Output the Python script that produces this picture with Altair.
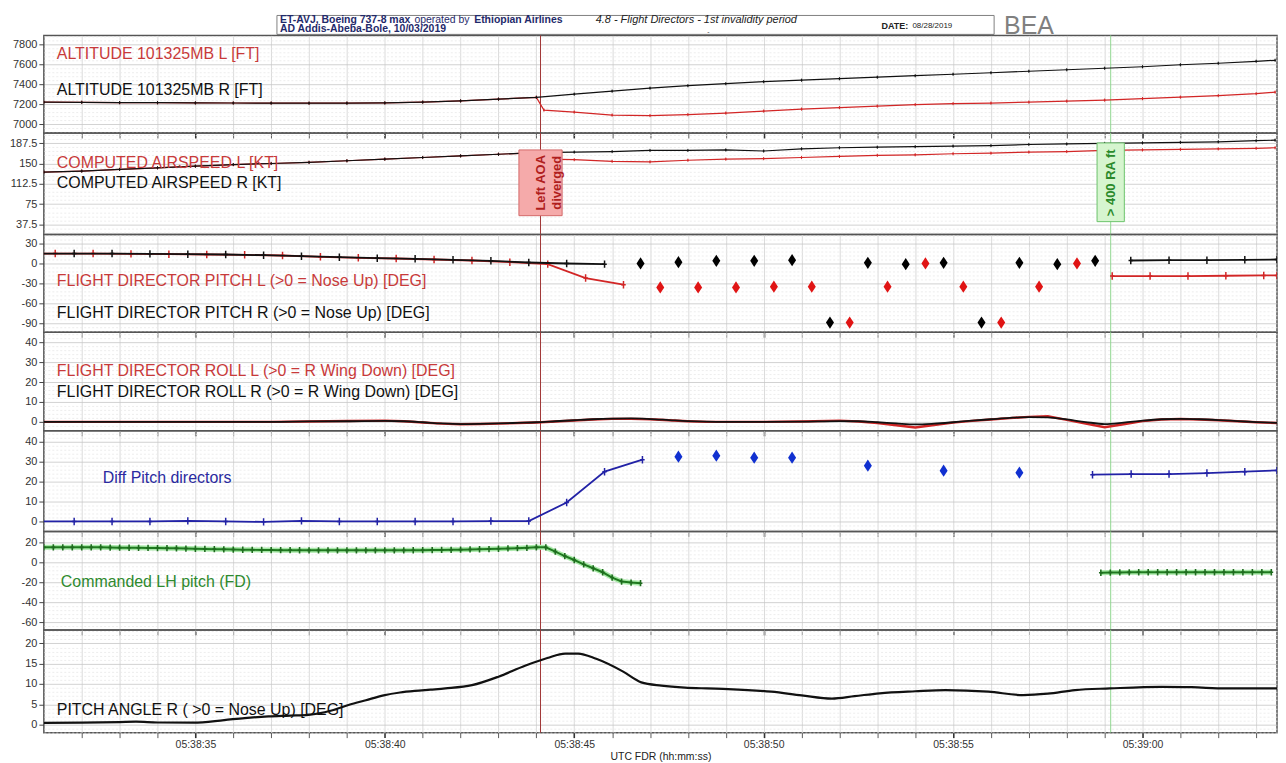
import altair as alt
import numpy as np
import pandas as pd

FONT = "Liberation Sans"
W = 1238
XDOM = [31.0, 63.55]

# ---------------- data ----------------
event_t = [44.11, 59.16]
event_color = ["#a03434", "#8fd68f"]

# Altitude [ft]
alt_R_t = [31, 32, 33, 34, 35, 36, 37, 38, 39, 40, 41, 42, 43, 44, 45, 46, 47, 48, 49, 50,
           51, 52, 53, 54, 55, 56, 57, 58, 59, 60, 61, 62, 63, 63.5]
alt_R = [7220, 7218, 7215, 7214, 7212, 7211, 7210, 7209, 7210, 7212, 7220, 7232, 7250, 7268,
         7300, 7330, 7360, 7385, 7405, 7425, 7440, 7455, 7470, 7485, 7500, 7515, 7530, 7545,
         7560, 7575, 7595, 7610, 7630, 7640]
alt_L_t = [31, 32, 33, 34, 35, 36, 37, 38, 39, 40, 41, 42, 43, 44, 44.2, 45, 46, 47, 48, 49,
           50, 51, 52, 53, 54, 55, 56, 57, 58, 59, 60, 61, 62, 63, 63.5]
alt_L = [7220, 7218, 7215, 7214, 7212, 7211, 7210, 7209, 7210, 7212, 7220, 7232, 7250, 7268,
         7140, 7120, 7090, 7085, 7095, 7110, 7130, 7150, 7165, 7180, 7195, 7205, 7210, 7220,
         7230, 7240, 7255, 7270, 7285, 7305, 7320]

# Computed airspeed [kt]
ias_R_t = alt_R_t
ias_R = [134, 136, 139, 142, 145, 148, 150, 152, 155, 158, 161, 164, 167, 170, 171, 172, 174,
         174, 175, 173, 177, 179, 180, 181, 182, 183, 185, 186, 187, 188, 189, 190, 192, 193]
ias_L_t = alt_L_t
ias_L = [134, 136, 139, 142, 145, 148, 150, 152, 155, 158, 161, 164, 167, 170, 158, 157, 154,
         153, 156, 158, 159, 161, 163, 165, 166, 168, 169, 171, 172, 174, 175, 176, 177, 178, 179]

# Flight director pitch [deg]
fdp_R_t = [30.8, 31.8, 32.8, 33.8, 34.8, 35.8, 36.8, 37.8, 38.8, 39.8, 40.8, 41.8, 42.8, 43.8,
           44.8, 45.8, 59.69, 60.7, 61.7, 62.7, 63.55]
fdp_R = [15, 15, 15, 14.5, 14, 13.5, 12.5, 11, 9.5, 8, 7, 5.5, 4, 1.5, 0, -1, 4.5, 5, 5, 5.5, 6]
fdp_R_seg = ["a"] * 16 + ["b"] * 5
fdp_L_t = [30.3, 31.3, 32.3, 33.3, 34.3, 35.3, 36.3, 37.3, 38.3, 39.3, 40.3, 41.3, 42.3, 43.3,
           44.3, 45.3, 46.3, 59.2, 60.2, 61.2, 62.2, 63.2, 63.55]
fdp_L = [15, 15, 15, 14.5, 14, 13.5, 13, 12, 10, 8.5, 7.5, 6, 4.5, 2, -1, -22, -32,
         -19, -19, -19, -18.5, -18, -18]
fdp_L_seg = ["a"] * 17 + ["b"] * 6
dia_R_t = [46.75, 47.75, 48.75, 49.75, 50.75, 51.75, 52.75, 53.75, 54.75, 55.75, 56.75, 57.75, 58.75]
dia_R = [0, 2, 4, 4, 5, -89, 1, -1, 1, -89, 1, -1, 4]
dia_L_t = [47.27, 48.27, 49.27, 50.27, 51.27, 52.27, 53.27, 54.27, 55.27, 56.27, 57.27, 58.27]
dia_L = [-36, -36, -36, -35, -35, -89, -35, 0, -35, -89, -35, 0]

# Flight director roll [deg]
roll_t = [31, 32, 33, 34, 35, 36, 37, 38, 39, 40, 40.5, 41, 41.5, 42, 42.5, 43, 43.5, 44, 44.5,
          45, 45.5, 46, 46.5, 47, 47.5, 48, 48.5, 49, 50, 51, 52, 52.5, 53, 53.5, 54, 54.5, 55,
          55.5, 56, 56.5, 57, 57.5, 58, 58.5, 59, 59.5, 60, 60.5, 61, 61.5, 62, 62.5, 63, 63.55]
roll_R = [0, 0, 0, 0, 0, 0, 0, 0.2, 0.3, 0.5, 0.3, -0.2, -0.8, -1.1, -1, -0.8, -0.5, -0.2, 0.3,
          0.8, 1.3, 1.6, 1.7, 1.4, 0.9, 0.4, 0.1, 0, 0, 0.1, 0.4, 0.3, -0.2, -0.8, -1.3, -0.9,
          -0.2, 0.6, 1.3, 2, 2.4, 2.2, 1.2, -0.1, -1.1, -0.4, 0.6, 1.3, 1.5, 1.3, 0.9, 0.4, -0.1, -0.5]
roll_L = [0, 0, 0, 0, 0, 0, 0, 0.2, 0.4, 0.6, 0.3, -0.3, -0.9, -1.2, -1.1, -0.9, -0.6, -0.3, 0.2,
          0.7, 1.2, 1.5, 1.5, 1.3, 0.8, 0.3, 0, 0, 0, 0.2, 0.6, 0.2, -0.6, -1.7, -2.8, -1.6,
          -0.4, 0.5, 1.2, 1.9, 2.5, 2.8, 1.0, -0.9, -2.7, -1.2, 0.4, 1.2, 1.4, 1.2, 0.8, 0.3, -0.2, -0.6]

# Diff pitch directors [deg]
dp_t = [30.8, 31.8, 32.8, 33.8, 34.8, 35.8, 36.8, 37.8, 38.8, 39.8, 40.8, 41.8, 42.8, 43.8,
        44.8, 45.8, 46.8, 58.68, 59.7, 60.7, 61.7, 62.7, 63.55]
dp_v = [0, 0, 0, 0, 0.3, 0, -0.2, 0.3, 0, 0, 0, 0, 0.2, 0.2, 9.5, 25, 31,
        23.5, 23.8, 23.8, 24.3, 25, 25.6]
dp_seg = ["a"] * 17 + ["b"] * 6
dpd_t = [47.75, 48.75, 49.75, 50.75, 52.75, 54.75, 56.75]
dpd_v = [32.5, 33, 32, 32, 28, 25.5, 24.5]

# Commanded LH pitch (FD) [deg]
cmd_t = [31.0, 31.25, 31.5, 31.75, 32.0, 32.25, 32.5, 32.75, 33.0, 33.25, 33.5, 33.75,
         34.0, 34.25, 34.5, 34.75, 35.0, 35.25, 35.5, 35.75, 36.0, 36.25, 36.5, 36.75,
         37.0, 37.25, 37.5, 37.75, 38.0, 38.25, 38.5, 38.75, 39.0, 39.25, 39.5, 39.75,
         40.0, 40.25, 40.5, 40.75, 41.0, 41.25, 41.5, 41.75, 42.0, 42.25, 42.5, 42.75,
         43.0, 43.25, 43.5, 43.75, 44.0, 44.25, 44.5, 44.75, 45.0, 45.25, 45.5, 45.75,
         46.0, 46.25, 46.5, 46.75,
         58.9, 59.15, 59.4, 59.65, 59.9, 60.15, 60.4, 60.65, 60.9, 61.15, 61.4, 61.65,
         61.9, 62.15, 62.4, 62.65, 62.9, 63.15, 63.4]
cmd_v = [15, 15, 15, 15, 15, 15, 15, 14.8, 14.7, 14.6, 14.5, 14.4, 14.3, 14.2, 14, 13.8,
         13.6, 13.4, 13.2, 13, 12.8, 12.6, 12.5, 12.4, 12.3, 12.2, 12.2, 12.1, 12, 12, 12, 12,
         12, 12, 12, 12, 12, 12, 12, 12.1, 12.2, 12.3, 12.4, 12.5, 12.7, 12.9, 13.1, 13.3,
         13.6, 13.9, 14.2, 14.5, 15, 15, 10.7, 6.3, 2.3, -2, -6, -10, -15.3, -19.3, -20.3, -21,
         -10.5, -10.3, -10.2, -10.1, -10, -10, -10, -10, -10, -10, -10, -10,
         -10, -10, -10, -10, -10, -10, -10]
cmd_seg = ["a"] * 64 + ["b"] * 19

# Pitch angle R [deg]
pit_t = [31.0, 32.0, 33.0, 33.43, 34.0, 34.95, 35.76, 36.3, 36.93, 37.5, 37.99, 38.57, 39.04,
         39.5, 39.97, 40.4, 40.79, 41.2, 41.6, 42.3, 43.0, 43.7, 44.29, 44.76, 45.1, 45.58,
         46.28, 46.77, 47.3, 47.92, 48.5, 49.06, 50.2, 51.0, 51.8, 52.4, 53.06, 54.0, 54.8,
         55.93, 56.85, 57.5, 58.22, 59.14, 60.5, 61.3, 62.2, 63.55]
pit_v = [0.4, 0.45, 0.6, 0.7, 0.5, 0.45, 1.1, 1.6, 2.0, 2.2, 2.4, 3.4, 4.8, 6.0, 7.2, 7.9,
         8.3, 8.6, 8.9, 9.7, 11.8, 14.5, 16.4, 17.5, 17.5, 16.2, 13.1, 10.4, 9.6, 9.1, 8.9,
         8.75, 8.1, 7.2, 6.4, 7.0, 7.7, 8.2, 8.5, 8.1, 7.25, 7.6, 8.5, 8.9, 9.3, 9.2, 8.9, 8.9]

# ---------------- helpers ----------------
XVALS = list(range(32, 64))
PLUS = "M-0.6,0L0.6,0M0,-1L0,1"
DIAM = "M0,-1.3L0.85,0L0,1.3L-0.85,0Z"
one = pd.DataFrame({"k": [0]})
ev_df = pd.DataFrame({"t": event_t, "c": event_color})


def df_of(t, v, seg=None):
    d = pd.DataFrame({"t": t, "v": v})
    d["seg"] = seg if seg is not None else ["a"] * len(t)
    return d


def X(last=False):
    common = dict(values=XVALS, grid=True, gridColor="#d2d2d2", gridWidth=0.8, domain=False,
                  tickColor="#333", tickSize=5,
                  tickWidth={"condition": {"test": "datum.value % 5 == 0", "value": 1.6}, "value": 0.8},
                  labelOverlap=False)
    if last:
        ax = alt.Axis(**common,
                      labelExpr="datum.value % 5 == 0 ? (datum.value < 60 ? '05:38:' + datum.value : '05:39:0' + (datum.value - 60)) : ''",
                      labelFont=FONT, labelFontSize=10.5, labelColor="#333", labelPadding=2,
                      title="UTC FDR (hh:mm:ss)", titleFont=FONT, titleFontSize=10.5,
                      titleFontWeight="normal", titleColor="#222", titlePadding=1)
    else:
        ax = alt.Axis(**common, labels=False, title=None)
    return alt.X("t:Q", scale=alt.Scale(domain=XDOM, nice=False, zero=False), axis=ax)


def Y(dom, major, step, lo, hi):
    vals = [round(float(v), 4) for v in np.arange(lo, hi + 1e-9, step)]
    test = f"abs(datum.value % {major}) < 1e-6"
    ax = alt.Axis(values=vals, title=None, domain=False, grid=True,
                  gridColor={"condition": {"test": test, "value": "#c6c6c6"}, "value": "#e8e8e8"},
                  gridDash={"condition": {"test": test, "value": []}, "value": [2, 2]},
                  gridWidth=0.8, tickSize=5, tickColor="#444",
                  tickOpacity={"condition": {"test": test, "value": 1}, "value": 0},
                  labelExpr=f"{test} ? '' + datum.value : ''",
                  labelFont=FONT, labelFontSize=11, labelColor="#333", labelPadding=2,
                  labelOverlap=False, labelBound=False)
    return alt.Y("v:Q", scale=alt.Scale(domain=dom, nice=False, zero=False), axis=ax)


def line(df, y, color, width=1.5, interp="linear", last=False):
    return alt.Chart(df).mark_line(color=color, strokeWidth=width, interpolate=interp, clip=True).encode(
        x=X(last), y=y, detail="seg:N")


def pts(df, y, color, shape=PLUS, size=30, sw=1.2, filled=False, last=False):
    return alt.Chart(df).mark_point(shape=shape, size=size, color=color, strokeWidth=sw,
                                    filled=filled, opacity=1, clip=True).encode(x=X(last), y=y)


def rules(last=False):
    return alt.Chart(ev_df).mark_rule(strokeWidth=1).encode(
        x=X(last), color=alt.Color("c:N", scale=None))


def label(text, x, y, color, size=16):
    return alt.Chart(one).mark_text(text=text, align="left", baseline="middle", font=FONT,
                                    fontSize=size, color=color).encode(x=alt.value(x), y=alt.value(y))


def htext(text, x, y, size, color, weight="normal", style="normal"):
    return alt.Chart(one).mark_text(text=text, align="left", baseline="middle", font=FONT, fontSize=size,
                                    fontWeight=weight, fontStyle=style, color=color).encode(
        x=alt.value(x), y=alt.value(y))


RED = "#d22626"
LRED = "#c83a3a"
BLK = "#111111"

# ---------------- header ----------------
NAVY = "#1f2a6b"
header = alt.layer(
    alt.Chart(one).mark_rect(fill="white", stroke="#808080", strokeWidth=1).encode(
        x=alt.value(234), x2=alt.value(954), y=alt.value(0), y2=alt.value(19)),
    htext("ET-AVJ, Boeing 737-8 max", 237, 4.5, 10.5, NAVY, "bold"),
    htext("operated by", 372, 4.5, 10.5, NAVY),
    htext("Ethiopian Airlines", 432, 4.5, 10.5, NAVY, "bold"),
    htext("AD Addis-Abeba-Bole, 10/03/2019", 237, 14, 10.5, NAVY, "bold"),
    htext("4.8 - Flight Directors - 1st invalidity period", 554, 4.5, 11, "#222", style="italic"),
    htext("-", 666, 17, 7, "#444"),
    htext("DATE:", 841, 10.5, 9, "#222", "bold"),
    htext("08/28/2019", 872, 10.5, 8, "#222"),
    htext("BEA", 964, 11, 25, "#808080"),
).properties(width=W, height=20, view=alt.ViewBackground(stroke=None))

# ---------------- panels ----------------
y1 = Y([6910, 7890], 200, 40, 6920, 7880)
p1 = alt.layer(
    rules(),
    line(df_of(alt_L_t, alt_L), y1, RED, 1.2),
    pts(df_of(alt_L_t, alt_L), y1, RED, size=10, sw=1),
    line(df_of(alt_R_t, alt_R), y1, BLK, 1.2),
    pts(df_of(alt_R_t, alt_R), y1, BLK, size=10, sw=1),
    label("ALTITUDE 101325MB L [FT]", 13, 19, LRED),
    label("ALTITUDE 101325MB R [FT]", 13, 55, BLK),
).properties(width=W, height=98)

y2 = Y([18.75, 206.25], 37.5, 7.5, 22.5, 202.5)
box_df = pd.DataFrame({"t": event_t, "text": ["Left AOA\ndiverged", "> 400 RA ft"]})
XS = alt.Scale(domain=XDOM, nice=False, zero=False)
red_box = alt.Chart(box_df.iloc[[0]]).transform_calculate(a="datum.t - 0.57", b="datum.t + 0.57").mark_rect(
    fill="#f5aaaa", stroke="#d46a6a", strokeWidth=1).encode(
    x=alt.X("a:Q", scale=XS, axis=None), x2="b:Q", y=alt.value(17), y2=alt.value(83))
red_txt = alt.Chart(box_df.iloc[[0]]).mark_text(angle=270, align="center", baseline="middle", font=FONT,
                                                fontSize=13, fontWeight="bold", color="#b01e1e",
                                                lineBreak="\n", lineHeight=17).encode(
    x=alt.X("t:Q", scale=XS, axis=None), y=alt.value(50), text="text:N")
grn_box = alt.Chart(box_df.iloc[[1]]).transform_calculate(a="datum.t - 0.36", b="datum.t + 0.36").mark_rect(
    fill="#d6f5cf", stroke="#6cc46c", strokeWidth=1).encode(
    x=alt.X("a:Q", scale=XS, axis=None), x2="b:Q", y=alt.value(10), y2=alt.value(89))
grn_txt = alt.Chart(box_df.iloc[[1]]).mark_text(angle=270, align="center", baseline="middle", font=FONT,
                                                fontSize=13, fontWeight="bold", color="#2b8a2b").encode(
    x=alt.X("t:Q", scale=XS, axis=None), y=alt.value(50), text="text:N")
p2 = alt.layer(
    rules(),
    line(df_of(ias_L_t, ias_L), y2, RED, 1.2),
    pts(df_of(ias_L_t, ias_L), y2, RED, size=10, sw=1),
    line(df_of(ias_R_t, ias_R), y2, BLK, 1.2),
    pts(df_of(ias_R_t, ias_R), y2, BLK, size=10, sw=1),
    label("COMPUTED AIRSPEED L [KT]", 13, 30, LRED),
    label("COMPUTED AIRSPEED R [KT]", 13, 50, BLK),
    red_box, red_txt, grn_box, grn_txt,
).properties(width=W, height=102)

y3 = Y([-103.5, 43.5], 30, 6, -102, 42)
fdpL = df_of(fdp_L_t, fdp_L, fdp_L_seg)
fdpR = df_of(fdp_R_t, fdp_R, fdp_R_seg)
p3 = alt.layer(
    rules(),
    line(fdpL, y3, RED, 1.8),
    pts(fdpL, y3, RED, size=56, sw=1.5),
    line(fdpR, y3, BLK, 1.8),
    pts(fdpR, y3, BLK, size=56, sw=1.5),
    pts(df_of(dia_R_t, dia_R), y3, "#000000", shape=DIAM, size=90, sw=0, filled=True),
    pts(df_of(dia_L_t, dia_L), y3, "#e01414", shape=DIAM, size=90, sw=0, filled=True),
    label("FLIGHT DIRECTOR PITCH L (>0 = Nose Up) [DEG]", 13, 47, LRED),
    label("FLIGHT DIRECTOR PITCH R (>0 = Nose Up) [DEG]", 13, 79, BLK),
).properties(width=W, height=98)

y4 = Y([-4.5, 45], 10, 2, -4, 44)
p4 = alt.layer(
    rules(),
    line(df_of(roll_t, roll_L), y4, RED, 2.4),
    line(df_of(roll_t, roll_R), y4, BLK, 1.8, interp="monotone"),
    label("FLIGHT DIRECTOR ROLL L (>0 = R Wing Down) [DEG]", 13, 39, LRED),
    label("FLIGHT DIRECTOR ROLL R (>0 = R Wing Down) [DEG]", 13, 60, BLK),
).properties(width=W, height=99)

y5 = Y([-5, 45.5], 10, 2, -4, 44)
dpd = df_of(dp_t, dp_v, dp_seg)
p5 = alt.layer(
    rules(),
    line(dpd, y5, "#2222a6", 1.8),
    pts(dpd, y5, "#2222a6", size=56, sw=1.5),
    pts(df_of(dpd_t, dpd_v), y5, "#1030d0", shape=DIAM, size=90, sw=0, filled=True),
    label("Diff Pitch directors", 59, 47, "#2a2aa0"),
).properties(width=W, height=101)

y6 = Y([-68, 31], 20, 4, -64, 28)
cmd = df_of(cmd_t, cmd_v, cmd_seg)
p6 = alt.layer(
    rules(),
    line(cmd, y6, "#a6e8a6", 5),
    line(cmd, y6, "#1f7a1f", 2),
    pts(cmd, y6, "#1f6b1f", size=40, sw=1.6),
    label("Commanded LH pitch (FD)", 17, 51, "#2e8a2e"),
).properties(width=W, height=99)

y7 = Y([-2, 23.3], 5, 1, -2, 23)
p7 = alt.layer(
    rules(last=True),
    line(df_of(pit_t, pit_v), y7, BLK, 2.2, interp="monotone", last=True),
    label("PITCH ANGLE R ( >0 = Nose Up) [DEG]", 13, 80, BLK),
).properties(width=W, height=103)

chart = alt.vconcat(header, p1, p2, p3, p4, p5, p6, p7, spacing=0, bounds="flush").configure_view(
    stroke="#555555", strokeWidth=1.5
).properties(
    padding={"left": 0, "right": 0, "top": 4, "bottom": 0}, background="white"
)

chart.save("out.html", embed_options={"renderer": "svg", "actions": False})
